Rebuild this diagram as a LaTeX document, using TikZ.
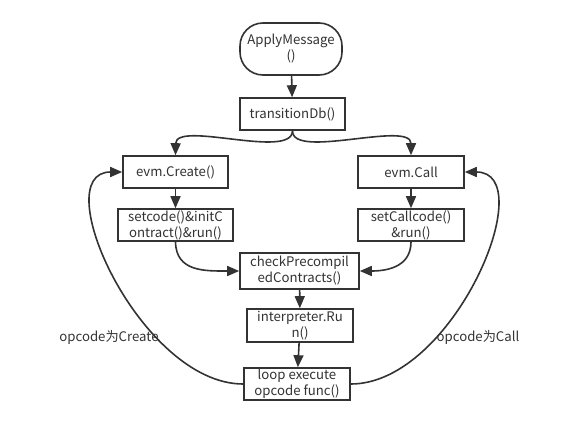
\documentclass[tikz,border=0pt]{standalone}
\usepackage{fontspec}
\setmainfont{Noto Sans CJK SC}
\usepackage{xcolor}
\usepackage{tikz}
\usetikzlibrary{arrows.meta,positioning}
\definecolor{ink}{HTML}{333333}

\begin{document}
\begin{tikzpicture}[
  x=1pt, y=-1pt,
  box/.style={
    rectangle,
    draw=ink,
    line width=1.6pt,
    fill=white,
    inner sep=0pt,
    minimum width=106pt,
    minimum height=32pt,
    align=center,
    text=ink,
    font=\fontsize{13.2}{16}\selectfont
  },
  terminal/.style={
    box,
    rounded corners=23pt,
    minimum width=102pt,
    minimum height=52pt
  },
  flow/.style={
    -{Triangle[length=12pt,width=10pt]},
    draw=ink,
    line width=1.6pt
  },
  lbl/.style={
    text=ink,
    font=\fontsize{13.2}{16}\selectfont
  }
]
\useasboundingbox (0,0) rectangle (585,426);

% --- TOP (entry) ---
\node[terminal] (apply) at (291,49) {ApplyMessage\\()};
\node[box, minimum width=105pt] (trans) at (292.5,114) {transitionDb()};

% --- LEFT BRANCH (create) ---
\node[box, minimum width=105pt] (create) at (175.5,172) {evm.Create()};
\node[box, minimum width=115pt] (setcode) at (175.5,225) {setcode()\&initC\\ontract()\&run()};

% --- RIGHT BRANCH (call) ---
\node[box] (call) at (411,172) {evm.Call};
\node[box] (setcall) at (411,225) {setCallcode()\\\&run()};

% --- SHARED PATH (center) ---
\node[box, minimum width=119pt, minimum height=36pt] (check) at (299.5,271) {checkPrecompil\\edContracts()};
\node[box, minimum height=33pt] (interp) at (300,325.5) {interpreter.Ru\\n()};
\node[box] (loop) at (297,384) {loop execute\\opcode func()};

% --- CONNECTIONS ---
\draw[flow] (apply) -- (trans);
\draw[flow] (trans.south) .. controls (292,160) and (176,120) .. (create.north);
\draw[flow] (trans.south) .. controls (292,160) and (411,120) .. (call.north);
\draw[flow] (create) -- (setcode);
\draw[flow] (call) -- (setcall);
\draw[flow] (setcode.south) .. controls (176,272) and (205,271) .. (check.west);
\draw[flow] (setcall.south) .. controls (411,268) and (385,271) .. (check.east);
\draw[flow] (check) -- (interp);
\draw[flow] (interp) -- (loop);

% loop back by opcode
\draw[flow] (loop.west) .. controls (140,384) and (45,172) .. (create.west);
\draw[flow] (loop.east) .. controls (454,384) and (542,172) .. (call.east);
\node[lbl] (lcreate) at (109,337) {opcode为Create};
\node[lbl] (lcall) at (478,337) {opcode为Call};

\end{tikzpicture}
\end{document}
